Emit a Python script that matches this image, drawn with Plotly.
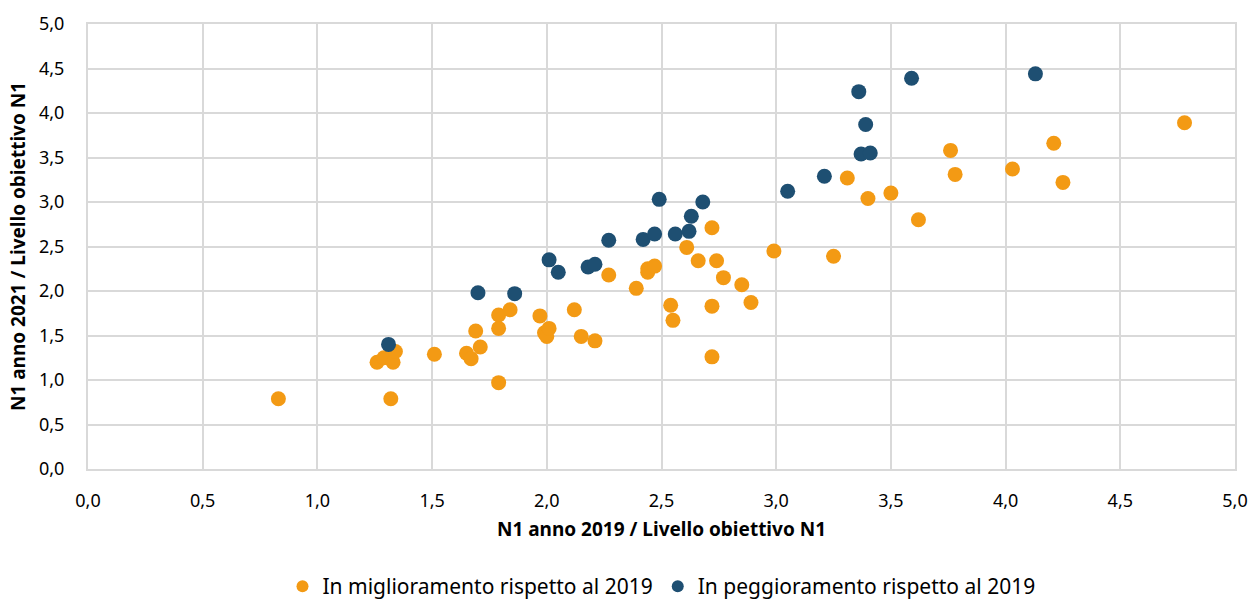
import plotly.graph_objects as go

migl_x = [0.83, 1.26, 1.29, 1.33, 1.34, 1.32, 1.51, 1.65, 1.67, 1.71, 1.69, 1.79, 1.79, 1.79, 1.84,
          1.97, 1.99, 2.00, 2.01, 2.12, 2.15, 2.21, 2.27, 2.39, 2.44, 2.44, 2.47, 2.54, 2.55, 2.61,
          2.66, 2.72, 2.72, 2.72, 2.74, 2.77, 2.85, 2.89, 2.99, 3.25, 3.31, 3.40, 3.50, 3.62, 3.76,
          3.78, 4.03, 4.21, 4.25, 4.78]
migl_y = [0.79, 1.20, 1.25, 1.20, 1.32, 0.79, 1.29, 1.30, 1.24, 1.37, 1.55, 0.97, 1.73, 1.58, 1.79,
          1.72, 1.53, 1.49, 1.58, 1.79, 1.49, 1.44, 2.18, 2.03, 2.21, 2.25, 2.28, 1.84, 1.67, 2.49,
          2.34, 2.71, 1.83, 1.26, 2.34, 2.15, 2.07, 1.87, 2.45, 2.39, 3.27, 3.04, 3.10, 2.80, 3.58,
          3.31, 3.37, 3.66, 3.22, 3.89]

pegg_x = [1.31, 1.70, 1.86, 2.01, 2.05, 2.18, 2.21, 2.27, 2.42, 2.47, 2.49, 2.56, 2.62, 2.63, 2.68,
          3.05, 3.21, 3.36, 3.39, 3.37, 3.41, 3.59, 4.13]
pegg_y = [1.40, 1.98, 1.97, 2.35, 2.21, 2.27, 2.30, 2.57, 2.58, 2.64, 3.03, 2.64, 2.67, 2.84, 3.00,
          3.12, 3.29, 4.24, 3.87, 3.54, 3.55, 4.39, 4.44]

ORANGE = "#F39A14"
BLUE = "#1E4F72"
FONT = "Noto Sans"

fig = go.Figure()
fig.add_trace(go.Scatter(x=migl_x, y=migl_y, mode="markers",
                         name="In miglioramento rispetto al 2019",
                         marker=dict(color=ORANGE, size=15, line=dict(width=0))))
fig.add_trace(go.Scatter(x=pegg_x, y=pegg_y, mode="markers",
                         name="In peggioramento rispetto al 2019",
                         marker=dict(color=BLUE, size=15, line=dict(width=0))))

axis_common = dict(range=[0, 5], dtick=0.5, tick0=0, tickformat=".1f",
                   showgrid=True, gridcolor="#D9D9D9", gridwidth=2,
                   zeroline=False, showline=True, linecolor="#D9D9D9", linewidth=2,
                   mirror=True, ticks="outside", tickcolor="rgba(0,0,0,0)",
                   ticklabeloverflow="allow",
                   automargin=False, tickfont=dict(size=18, color="#000000"))

fig.update_layout(
    width=1253, height=601,
    paper_bgcolor="white", plot_bgcolor="white",
    font=dict(family=FONT, color="#000000"),
    separators=",.",
    margin=dict(l=88, r=18, t=24, b=132),
    xaxis=dict(**axis_common, ticklen=14,
               title=dict(text="<b>N1 anno 2019 / Livello obiettivo N1</b>",
                          font=dict(size=19), standoff=12)),
    yaxis=dict(**axis_common, ticklen=18,
               title=dict(text="<b>N1 anno 2021 / Livello obiettivo N1</b>",
                          font=dict(size=19), standoff=8)),
    legend=dict(orientation="h", x=0.5, xanchor="center",
                yref="container", y=0.024, yanchor="middle",
                font=dict(size=21), itemsizing="constant", traceorder="normal",
                itemwidth=30, tracegroupgap=0),
    showlegend=True,
)

fig.write_html("out.html", config={"displayModeBar": False},
               post_script="document.body.style.margin='0';document.body.style.overflow='hidden';")
